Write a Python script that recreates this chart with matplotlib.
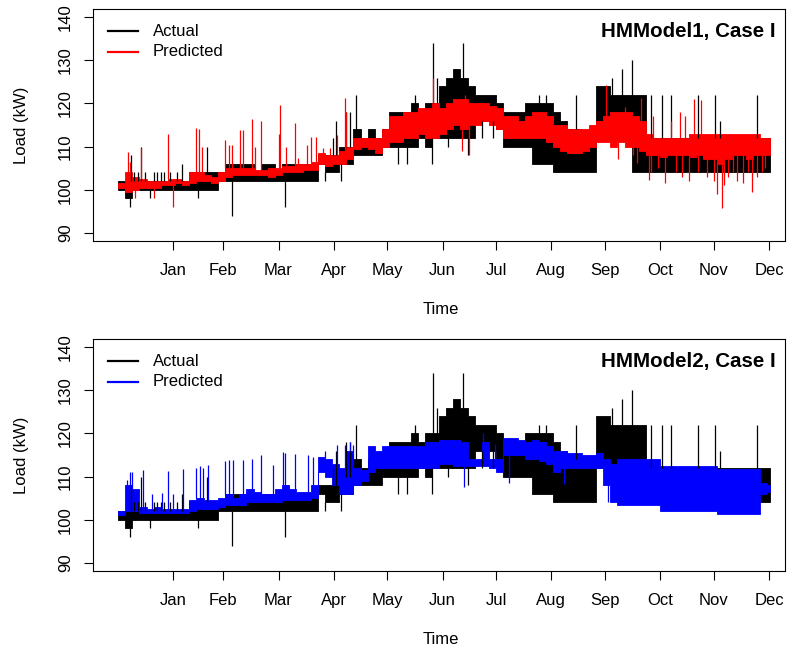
import numpy as np
import matplotlib.pyplot as plt

plt.rcParams['font.family'] = ['Liberation Sans', 'DejaVu Sans']

# Load over one year, in 4-day blocks counted from 1 December (min / max of each block)
days = np.arange(0, 366, 4)

actual_lo = [100, 98, 100, 100, 100, 100, 100, 100, 100, 100,
             100, 100, 100, 100, 102,
             102, 102, 102, 102, 102, 102, 102, 102, 102, 102, 102, 102, 102,
             106, 104, 104, 106, 106,
             108, 108, 108, 108, 110,
             110, 110, 110, 110, 112, 110, 112,
             112, 112, 112, 112, 112,
             116, 116, 116, 114,
             110, 110, 110, 110,
             106, 106, 106,
             104, 104, 104, 104, 104, 104,
             112, 112, 112, 112, 112,
             104, 104,
             104, 104, 104, 104, 104, 104, 104, 104, 104, 104, 104, 104, 104, 104, 104, 104, 104, 104]
actual_hi = [102, 102, 102, 102, 102, 102, 102, 102, 102, 102,
             104, 104, 104, 104, 104,
             106, 106, 106, 106, 104, 106, 106, 104, 106, 106, 106, 106, 106,
             108, 108, 108, 110, 110,
             114, 112, 114, 112, 114,
             118, 118, 118, 120, 118, 120, 120,
             124, 126, 128, 126, 124,
             122, 122, 122, 120,
             118, 118, 118, 120,
             120, 120, 120,
             118, 116, 114, 114, 112, 114,
             124, 124, 122, 122, 122,
             122, 122,
             112, 112, 112, 112, 112, 112, 112, 112, 112, 112, 112, 112, 112, 112, 112, 112, 112, 112]

hmm1_lo = [100.5, 99.5, 100, 100.5, 100.5, 100.5, 101, 101, 101.5, 101,
           101.5, 102, 102, 101.5, 102, 103, 103.5, 103.5, 103.5, 103.5,
           103.5, 103, 103.5, 104, 104, 104, 104.5, 104.5, 106, 105.5,
           106, 106, 107, 109.5, 110, 109.5, 108.5, 110, 111, 111,
           112, 112, 113, 112, 112, 113, 114, 115, 114, 115,
           115, 116, 115, 114, 112, 112, 112, 112, 112, 112,
           111, 110, 109, 108.5, 108.5, 109, 110, 111, 111, 110,
           111, 110, 110, 109, 108, 108, 107.5, 108, 108, 108,
           107.5, 108, 107, 107, 106, 107, 108, 108, 107, 108,
           108, 108]
hmm1_hi = [101.5, 104, 103, 102.5, 102, 102, 102, 102.5, 102.5, 102,
           104, 104, 103.5, 103, 104, 105, 105, 105, 105, 104.5,
           104.5, 105, 105, 105.5, 105.5, 106, 106, 106.5, 108.5, 108,
           108, 109, 110, 112, 112, 112, 112, 114, 117, 117,
           118, 118, 119, 119, 120, 119, 120, 121, 121, 120,
           120, 120, 119.5, 119, 117, 117, 116, 117, 118, 118,
           117, 115, 115, 114, 114, 114, 115, 116, 117, 118,
           118, 118, 117, 116, 113, 112, 112, 112, 112, 112,
           113, 113, 113, 113, 113, 113, 113, 113, 113, 113,
           112, 112]

hmm2_lo = [101, 102, 102, 101.5, 101.5, 101.5, 101.5, 101.5, 101.5, 101.5,
           102, 102.5, 102.5, 102.5, 103, 103.5, 103.5, 103.5, 104, 104,
           104, 104, 104, 104.5, 104.5, 104.5, 104.5, 105, 111, 110,
           108, 106, 106, 108, 109, 111, 112, 112, 112, 112,
           112, 112, 112, 112, 112, 113, 113, 112.5, 112.5, 112.5,
           112.5, 112.5, 112, 111, 115, 115, 115, 114, 114, 113.5,
           113, 111, 112, 112, 112, 112, 112, 112, 108, 104,
           103.5, 103.5, 103.5, 103.5, 103.5, 103.5, 102, 102, 102, 102,
           102, 102, 102, 102, 101.3, 101.3, 101.3, 101.3, 101.3, 101.3,
           106, 106.5]
hmm2_hi = [102, 108, 107, 103, 102.5, 103, 102.5, 102.5, 102.5, 102.5,
           104.5, 105, 104.5, 104.5, 105, 106, 105, 106, 107, 106.5,
           106, 106, 107, 108, 107, 106.5, 106.5, 108, 114.5, 114,
           113, 112, 116, 112, 111.5, 117, 116, 117, 117, 117,
           117, 117, 117, 118, 118, 118.5, 118.5, 118.5, 118, 114,
           114, 118, 114, 114, 119, 119, 118.5, 118, 118.5, 118,
           117, 116, 116, 115.5, 115.5, 115, 115, 115.5, 114, 113,
           114, 114, 114, 114, 114, 114, 112.5, 112.5, 112.5, 112.5,
           112.5, 112.5, 112.5, 112.5, 111.8, 111.8, 111.8, 111.8, 111.8, 111.8,
           108.5, 108]

# Short excursions beyond the block range (day, kW)
actual_spike_day = [7, 7.5, 9, 11, 13, 15, 18, 20, 22, 24, 26, 29, 33, 36, 45, 50, 64,
                    93.5, 111, 116, 120.5, 122, 125, 128, 130, 133.4, 157, 162, 166.5,
                    176, 176.6, 179, 185, 193.5, 196.4, 204, 210, 236, 240, 257,
                    276.7, 282.3, 288, 299, 305, 310, 325, 334.7, 337.5, 358]
actual_spike_val = [96, 108, 104, 104, 110, 104, 98, 104, 104, 104, 104, 104, 104, 106, 98, 110, 94,
                    96, 102, 102, 112, 116, 102, 118, 118, 122, 106, 106, 122,
                    106, 134, 126, 110, 134, 108, 112, 112, 122, 122, 122,
                    126, 128, 130, 122, 122, 122, 122, 122, 116, 122]

hmm1_spike_day = [5.8, 7, 9.5, 13, 20, 28, 31, 43.5, 45.5, 47, 60, 62, 64, 68.5, 70, 75, 77, 80,
                  90, 91, 94, 99, 101, 106, 108, 111, 115, 119, 123, 127, 128,
                  176.5, 193, 194.5, 197, 273.6, 280.6, 284, 289, 291, 293.4,
                  297.5, 299, 300, 303, 306.6, 310, 313, 315, 316, 318, 320, 323, 325, 327, 330,
                  334, 336, 338.6, 340, 342, 345, 347, 350.7, 353, 355.7, 358, 361, 363]
hmm1_spike_val = [108.8, 106.5, 98, 109.6, 98, 112.9, 96, 114.3, 114, 110, 111.5, 110.4, 110.4, 113.9, 113.9, 116.4, 110, 116,
                  113, 119.6, 110, 115.4, 107.3, 110.4, 112.3, 112.3, 109.6, 109.6, 112.7, 121.2, 118.1,
                  126, 109, 122, 108, 124.3, 107.2, 119.2, 108, 106.2, 121.2,
                  102.3, 104, 117, 105, 101.5, 116, 104, 118, 103, 117, 102, 121, 104, 120.8, 103,
                  102, 99, 95.7, 101, 103, 104, 102, 101.5, 104, 99.5, 103, 104, 105]

hmm2_spike_day = [5, 6.5, 8, 13.8, 19, 24.5, 28, 31, 36.6, 44, 46, 47.5, 50.5, 60, 62, 64.5,
                  70, 75, 80, 87, 92.3, 93.5, 99, 106.7, 109.6, 116, 123, 127, 130, 132,
                  194.2, 204.5, 211.4, 219, 250, 275]
hmm2_spike_val = [109.3, 111, 111, 111.6, 106, 106.3, 111.4, 106, 111.8, 112, 112.5, 112, 112.6, 113.7, 113.8, 113.8,
                  113.8, 114.1, 115, 112.6, 115.6, 115.5, 115.3, 115, 114.6, 116, 117.2, 117.3, 118, 117.3,
                  107.5, 120, 117.6, 108.6, 108.3, 104]

month_days = [31, 59, 90, 121, 151, 182, 212, 243, 273, 304, 334, 365]
month_names = ['Jan', 'Feb', 'Mar', 'Apr', 'May', 'Jun', 'Jul', 'Aug', 'Sep', 'Oct', 'Nov', 'Dec']
y_ticks = [90, 100, 110, 120, 130, 140]

BLUE = '#0000ff'
RED = '#ff0000'
END_DAY = 365.5


def draw_band(ax, lo, hi, color):
    # each 4-day block is drawn as a flat band from its low to its high
    lo = np.asarray(lo, float)
    hi = np.asarray(hi, float)
    x = np.append(days, END_DAY)
    ax.fill_between(x, np.append(lo, lo[-1]), np.append(hi, hi[-1]),
                    step='post', color=color, lw=0.6)


def draw_spikes(ax, sd, sv, lo, hi, color):
    sd = np.asarray(sd, float)
    sv = np.asarray(sv, float)
    lo = np.asarray(lo, float)
    hi = np.asarray(hi, float)
    idx = np.minimum((sd // 4).astype(int), len(lo) - 1)
    base = np.where(sv > hi[idx], hi[idx], lo[idx])
    ax.vlines(sd, base, sv, color=color, lw=0.9)


def style_axes(ax, title, pred_color):
    ax.set_xlim(-14, 374)
    ax.set_ylim(88.1, 141.9)
    ax.set_xticks(month_days)
    ax.set_xticklabels(month_names)
    ax.set_yticks(y_ticks)
    ax.tick_params(axis='x', length=6.5, width=0.8, pad=9.5, labelsize=12)
    ax.tick_params(axis='y', length=6.5, width=0.8, pad=8, labelsize=12, labelrotation=90)
    for lbl in ax.get_yticklabels():
        lbl.set_va('center')
    for s in ax.spines.values():
        s.set_linewidth(0.8)
    ax.text(0.987, 0.905, title, transform=ax.transAxes, ha='right', va='center',
            fontsize=14.8, fontweight='bold')
    # key in the upper left corner
    for yk, col, lab in [(0.905, 'black', 'Actual'), (0.815, pred_color, 'Predicted')]:
        ax.plot([0.0217, 0.065], [yk, yk], color=col, lw=1.6, transform=ax.transAxes)
        ax.text(0.0867, yk, lab, transform=ax.transAxes, ha='left', va='center', fontsize=12)


fig = plt.figure(figsize=(7.89, 6.51), dpi=100)
ax1 = fig.add_axes([0.1179, 0.6298, 0.8771, 0.3564])
ax2 = fig.add_axes([0.1179, 0.1229, 0.8771, 0.3564])

draw_band(ax1, actual_lo, actual_hi, 'black')
draw_spikes(ax1, actual_spike_day, actual_spike_val, actual_lo, actual_hi, 'black')
draw_band(ax1, hmm1_lo, hmm1_hi, RED)
draw_spikes(ax1, hmm1_spike_day, hmm1_spike_val, hmm1_lo, hmm1_hi, RED)
style_axes(ax1, 'HMModel1, Case I', RED)

draw_band(ax2, actual_lo, actual_hi, 'black')
draw_spikes(ax2, actual_spike_day, actual_spike_val, actual_lo, actual_hi, 'black')
draw_band(ax2, hmm2_lo, hmm2_hi, BLUE)
draw_spikes(ax2, hmm2_spike_day, hmm2_spike_val, hmm2_lo, hmm2_hi, BLUE)
style_axes(ax2, 'HMModel2, Case I', BLUE)

for yc_label, yc_time in [(125, 309), (455, 639)]:
    fig.text(22 / 789, 1 - yc_label / 651, 'Load (kW)', rotation=90, ha='center', va='center', fontsize=12)
    fig.text(441 / 789, 1 - yc_time / 651, 'Time', ha='center', va='center', fontsize=12)

fig.savefig('out.png', dpi=100)
